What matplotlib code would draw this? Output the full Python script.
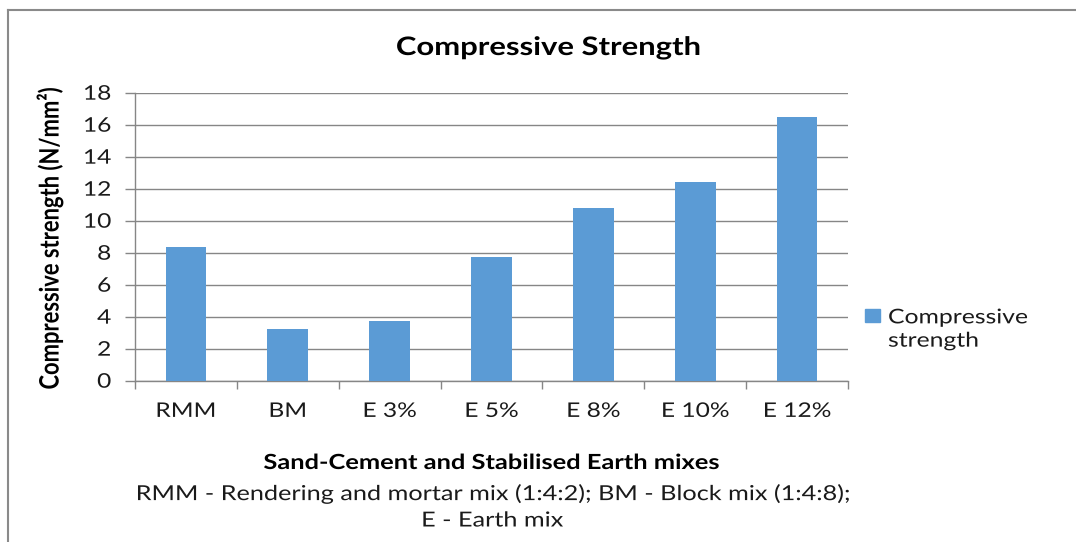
import matplotlib
matplotlib.use("Agg")
import matplotlib.pyplot as plt
from matplotlib import patheffects
from matplotlib.transforms import Affine2D
from matplotlib.lines import Line2D
from matplotlib.patches import Rectangle
import numpy as np

categories = ["RMM", "BM", "E 3%", "E 5%", "E 8%", "E 10%", "E 12%"]
values = [8.35, 3.23, 3.73, 7.71, 10.79, 12.42, 16.48]
yticks = [0, 2, 4, 6, 8, 10, 12, 14, 16, 18]
series_name = "Compressive\nstrength"

plt.rcParams['font.family'] = ['Lato', 'DejaVu Sans']

SX = 1.22  # reference chart is slightly stretched horizontally


class StretchX(patheffects.AbstractPathEffect):
    """Stretch glyphs horizontally around the text's anchor point."""
    def __init__(self, text, sx=SX):
        super().__init__()
        self.text = text
        self.sx = sx

    def draw_path(self, renderer, gc, tpath, affine, rgbFace=None):
        cx = self.text.get_transform().transform(self.text.get_position())[0]
        t = affine + Affine2D().translate(-cx, 0).scale(self.sx, 1).translate(cx, 0)
        renderer.draw_path(gc, tpath, t, rgbFace)


def stretch(t):
    t.set_path_effects([StretchX(t)])
    return t


W, H = 1076, 542
fig = plt.figure(figsize=(W / 100, H / 100), dpi=100)
fig.patch.set_facecolor("white")

ax = fig.add_axes([135 / W, 1 - 380.67 / H, 713 / W, 288 / H])
x = np.arange(len(categories))
bar_color = "#5B9BD5"
ax.bar(x, values, width=0.4, color=bar_color, zorder=3)

txt_color = "#1a1a1a"
ax.set_xlim(-0.5, len(categories) - 0.5)
ax.set_ylim(0, 18)
ax.set_yticks(yticks)
ax.set_yticklabels([str(v) for v in yticks], fontsize=14.5, color=txt_color)
ax.set_xticks(x)
ax.set_xticklabels(categories, fontsize=14.5, color=txt_color)
ax.set_xticks(np.arange(-0.5, len(categories)), minor=True)
ax.tick_params(axis="x", which="major", length=0, pad=16)
ax.tick_params(axis="x", which="minor", length=6, color="#868686", width=1)
ax.tick_params(axis="y", which="major", length=7, color="#868686", width=1, pad=10)
for lbl in ax.get_xticklabels() + ax.get_yticklabels():
    stretch(lbl)

ax.grid(axis="y", color="#868686", linewidth=1, zorder=0)
for s in ["top", "right"]:
    ax.spines[s].set_visible(False)
for s in ["left", "bottom"]:
    ax.spines[s].set_color("#868686")
    ax.spines[s].set_linewidth(1)

stretch(fig.text(548 / W, 1 - 47.5 / H, "Compressive Strength", ha="center", va="center",
                 fontsize=18.3, fontweight="bold", color="black"))
stretch(fig.text(50 / W, 1 - 238 / H, "Compressive strength (N/mm²)", ha="center", va="center",
                 rotation=90, fontsize=15.8, fontweight="bold", color="black"))
stretch(fig.text(492 / W, 1 - 463 / H, "Sand-Cement and Stabilised Earth mixes", ha="center",
                 va="center", fontsize=15, fontweight="bold", color="black"))
stretch(fig.text(492 / W, 1 - 507 / H,
                 "RMM - Rendering and mortar mix (1:4:2); BM - Block mix (1:4:8);\nE - Earth mix",
                 ha="center", va="center", fontsize=14.9, color=txt_color, linespacing=1.4))

# legend
fig.patches.append(Rectangle((865 / W, 1 - 322 / H), 15 / W, 13 / H,
                             transform=fig.transFigure, color=bar_color))
stretch(fig.text(888 / W, 1 - 329.5 / H, series_name, ha="left", va="center", fontsize=14.6,
                 color=txt_color, linespacing=1.45))

# chart border (top and left visible)
fig.add_artist(Line2D([7.5 / W, 1], [1 - 10 / H, 1 - 10 / H], color="#8a8a8a", linewidth=1.5,
                      transform=fig.transFigure))
fig.add_artist(Line2D([7.5 / W, 7.5 / W], [0, 1 - 10 / H], color="#8a8a8a", linewidth=1.5,
                      transform=fig.transFigure))

fig.savefig("out.png", dpi=100, facecolor="white")
